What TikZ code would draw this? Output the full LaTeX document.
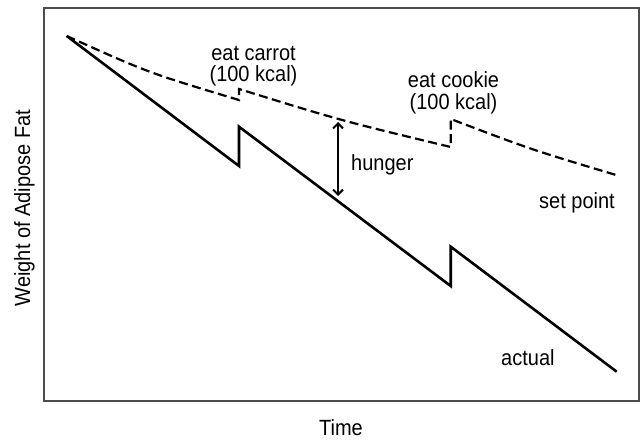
\documentclass[tikz,border=0pt]{standalone}
\usepackage{fontspec}
\setmainfont{Liberation Sans}
\usetikzlibrary{arrows.meta}
\newcommand{\tallt}[1]{\scalebox{1}[1.1]{#1}}
\begin{document}
\begin{tikzpicture}[x=1pt,y=-1pt,
  lbl/.style={font=\fontsize{20}{21.5}\selectfont, inner sep=0pt, text=black},
  actualline/.style={line width=2.6pt, line join=miter},
  setline/.style={line width=2.2pt, dash pattern=on 9pt off 4.5pt},
  framebox/.style={line width=1.5pt, draw=black!70},
  gaparrow/.style={line width=2pt, {Straight Barb[length=5pt,width=10pt,line width=2pt]}-{Straight Barb[length=5pt,width=10pt,line width=2pt]}}]
\useasboundingbox (0,0) rectangle (642,443);
\draw[framebox] (44,8) rectangle (639,401);
% actual weight
\coordinate (s0) at (66.7,36);
\coordinate (a1) at (239,166);
\coordinate (a2) at (239,126.7);
\coordinate (a3) at (450.7,286);
\coordinate (a4) at (450.7,246.7);
\coordinate (a5) at (616.7,371.7);
\draw[actualline] (s0) -- (a1) -- (a2) -- (a3) -- (a4) -- (a5);
% set point
\coordinate (p1) at (239,100);
\coordinate (p2) at (239,89);
\coordinate (p3) at (450.7,147);
\coordinate (p4) at (450.7,119);
\coordinate (p5) at (616,175);
\draw[setline] (s0) .. controls (148.7,72.9) .. (p1) -- (p2)
  .. controls (341,120.6) .. (p3) -- (p4)
  .. controls (531,149.5) .. (p5);
% hunger arrow
\coordinate (h1) at (338,122);
\coordinate (h2) at (338,196);
\draw[gaparrow] (h1) -- (h2);
% labels
\node[lbl, anchor=base] (carrot1) at (253.5,61) {\tallt{eat carrot}};
\node[lbl, anchor=base] (carrot2) at (253.5,82) {\tallt{(100 kcal)}};
\node[lbl, anchor=base] (cookie1) at (453.5,88) {\tallt{eat cookie}};
\node[lbl, anchor=base] (cookie2) at (453.5,109.5) {\tallt{(100 kcal)}};
\node[lbl, anchor=base west] (hunger) at (351,171) {\tallt{hunger}};
\node[lbl, anchor=base west] (setpoint) at (539,208.5) {\tallt{set point}};
\node[lbl, anchor=base west] (actual) at (501,365) {\tallt{actual}};
\node[lbl, anchor=base] (time) at (341,435) {\tallt{Time}};
\node[lbl, anchor=base, rotate=90] (weight) at (30,208) {\tallt{Weight of Adipose Fat}};
\end{tikzpicture}
\end{document}
